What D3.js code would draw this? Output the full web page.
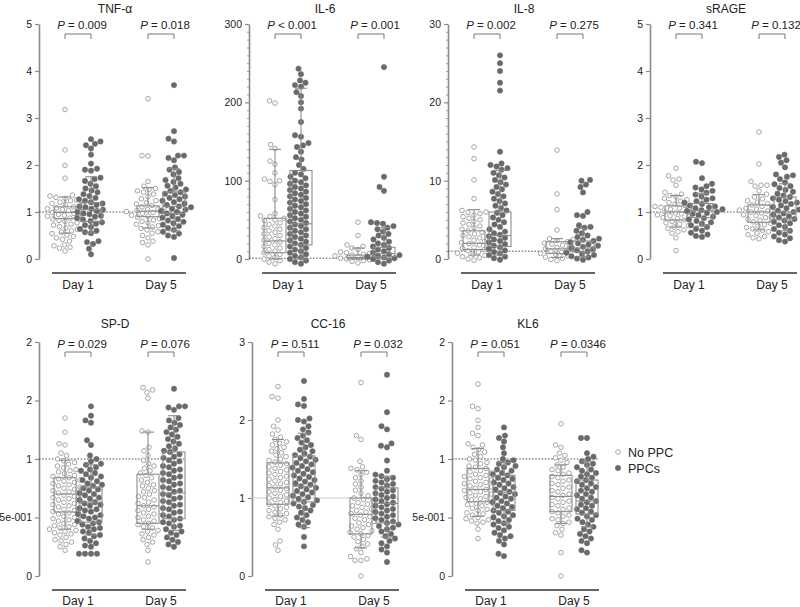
<!DOCTYPE html>
<html><head><meta charset="utf-8">
<script src="https://cdn.jsdelivr.net/npm/d3@7"></script>
<style>body{margin:0;background:#fff}svg{display:block}text{font-family:"Liberation Sans",Arial,sans-serif}</style>
</head><body><svg id="c" width="800" height="607"></svg>
<script>
const days = ["Day 1", "Day 5"];
const groups = ["No PPC", "PPCs"];

// TNF-alpha
const tnfD1No = [3.18,2.32,1.99,1.72,1.36,1.34,1.31,1.29,1.26,1.24,1.21,1.18,1.16,1.13,1.11,1.09,1.07,1.05,1.03,1.01,0.99,0.97,0.95,0.93,0.91,0.89,0.87,0.85,0.82,0.8,0.77,0.74,0.72,0.69,0.66,0.63,0.6,0.57,0.54,0.51,0.48,0.45,0.42,0.38,0.3,0.28,0.25,0.23,0.17];
const tnfD1Ppc = [2.55,2.5,2.45,2.42,2.35,2.22,2.03,1.92,1.9,1.88,1.73,1.7,1.66,1.6,1.55,1.5,1.46,1.42,1.38,1.34,1.3,1.27,1.24,1.21,1.18,1.15,1.12,1.1,1.07,1.05,1.02,1.0,0.97,0.95,0.92,0.9,0.87,0.84,0.81,0.78,0.75,0.72,0.68,0.64,0.6,0.57,0.55,0.38,0.36,0.32,0.22,0.1];
const tnfD5No = [3.41,2.2,2.19,1.65,1.55,1.5,1.48,1.45,1.42,1.38,1.33,1.28,1.24,1.2,1.17,1.14,1.11,1.09,1.07,1.05,1.03,1.01,0.99,0.97,0.95,0.93,0.91,0.89,0.86,0.83,0.8,0.77,0.74,0.71,0.68,0.65,0.62,0.58,0.55,0.5,0.45,0.38,0.35,0.3,0.0];
const tnfD5Ppc = [3.7,2.72,2.56,2.5,2.2,2.2,2.15,2.1,1.95,1.9,1.85,1.8,1.72,1.68,1.64,1.6,1.56,1.52,1.48,1.45,1.42,1.39,1.36,1.33,1.3,1.27,1.24,1.21,1.18,1.15,1.12,1.1,1.07,1.05,1.02,1.0,0.97,0.94,0.91,0.88,0.85,0.82,0.79,0.76,0.73,0.7,0.66,0.62,0.58,0.54,0.5,0.47,0.02];
const tnfBox = [[0.86,0.99,1.11,0.55,1.32],[0.8,1.05,1.2,0.55,1.75],[0.9,1.02,1.13,0.66,1.52],[0.97,1.12,1.43,0.6,1.92]];
const tnfP = ["= 0.009", "= 0.018"];

// IL-6
const il6D1No = [202,199,146,141,125,121,110,102,100,99,95,76,58,55,54,52,50,49,46,44,42,40,38,36,34,32,30,28,26,24,22,20,18,16,14,12,10,8,6,4,2,0,-2,-4,-6];
const il6D1Ppc = [243,236,228,225,222,220,213,208,200,192,175,158,156,148,145,143,137,130,127,120,115,110,108,105,103,100,98,96,94,92,90,88,86,84,82,80,78,76,74,72,70,68,66,64,62,60,58,56,54,52,50,48,46,44,42,40,38,36,34,32,30,28,26,24,22,20,18,16,14,12,10,8,6,4,2,0,-2,-4,-6];
const il6D5No = [47,30,18,16,14,12,10,9,8,7,6,5,4,3,2,1,0,-1,-2,-3,-5];
const il6D5Ppc = [245,105,92,87,47,46,45,42,40,38,35,32,30,27,25,22,20,18,16,14,12,10,8,6,5,4,3,2,1,0,-2,-4,-6];
const il6Box = [[8,23,52,0,140],[18,45,113,0,218],[0,2,5,0,14],[3,7,15,0,40]];
const il6P = ["< 0.001", "= 0.001"];

// IL-8
const il8D1No = [14.3,12.8,10.1,7.7,6.2,6.0,5.95,5.8,5.6,5.4,5.2,5.0,4.8,4.6,4.4,4.2,4.0,3.8,3.6,3.4,3.2,3.0,2.85,2.7,2.55,2.4,2.25,2.1,1.95,1.8,1.65,1.5,1.35,1.2,1.05,0.9,0.75,0.6,0.45,0.3,0.15,0.0,-0.15];
const il8D1Ppc = [26,25,24,22.5,21.5,13.7,12.2,12.0,11.8,11.6,11.4,11.0,10.7,10.4,10.1,9.8,9.5,9.2,8.9,8.6,8.3,8.0,7.7,7.4,7.1,6.8,6.5,6.2,5.9,5.6,5.3,5.0,4.7,4.4,4.1,3.8,3.5,3.3,3.1,2.9,2.7,2.5,2.3,2.1,1.9,1.7,1.5,1.3,1.1,0.9,0.7,0.5,0.3,0.1,-0.1];
const il8D5No = [13.9,8.3,6.3,3.7,2.6,2.5,2.35,2.2,2.05,1.9,1.75,1.6,1.45,1.3,1.15,1.0,0.85,0.7,0.55,0.4,0.25,0.1,-0.05,-0.2];
const il8D5Ppc = [10.1,10.0,9.5,9.2,8.5,6.0,5.6,5.5,4.3,4.1,4.0,3.6,3.3,3.0,2.8,2.6,2.45,2.3,2.15,2.0,1.85,1.7,1.55,1.4,1.25,1.1,0.95,0.8,0.65,0.5,0.35,0.2,0.05,-0.1];
const il8Box = [[1.2,2.0,3.6,0.5,6.3],[1.6,3.0,6.0,0.5,11.3],[0.7,1.3,2.2,0.2,2.6],[0.9,1.4,2.3,0.3,3.9]];
const il8P = ["= 0.002", "= 0.275"];

// sRAGE
const srD1No = [1.93,1.77,1.7,1.68,1.57,1.42,1.38,1.35,1.32,1.29,1.26,1.23,1.2,1.17,1.14,1.12,1.1,1.08,1.06,1.04,1.02,1.0,0.98,0.96,0.94,0.92,0.9,0.88,0.86,0.83,0.8,0.77,0.74,0.71,0.68,0.65,0.62,0.58,0.55,0.45,0.18];
const srD1Ppc = [2.07,2.04,1.72,1.6,1.55,1.52,1.48,1.45,1.41,1.37,1.33,1.29,1.26,1.23,1.2,1.17,1.14,1.12,1.1,1.08,1.06,1.04,1.02,1.0,0.98,0.96,0.93,0.9,0.87,0.84,0.81,0.78,0.75,0.72,0.68,0.64,0.6,0.56,0.52,0.49,0.47];
const srD5No = [2.7,2.02,1.65,1.57,1.57,1.55,1.45,1.38,1.32,1.28,1.24,1.21,1.18,1.15,1.12,1.1,1.08,1.06,1.04,1.02,1.0,0.98,0.96,0.94,0.92,0.9,0.88,0.85,0.82,0.79,0.76,0.73,0.7,0.67,0.64,0.61,0.58,0.55,0.52,0.48,0.45,0.43];
const srD5Ppc = [2.22,2.17,2.1,2.05,1.95,1.8,1.78,1.75,1.7,1.63,1.59,1.55,1.51,1.47,1.43,1.39,1.35,1.32,1.29,1.26,1.23,1.2,1.17,1.14,1.11,1.08,1.05,1.03,1.0,0.97,0.94,0.91,0.88,0.85,0.82,0.79,0.76,0.72,0.68,0.64,0.6,0.56,0.52,0.48,0.44,0.4,0.37];
const srBox = [[0.83,1.0,1.13,0.68,1.35],[0.88,1.03,1.18,0.7,1.4],[0.78,1.0,1.15,0.62,1.37],[0.85,1.0,1.32,0.6,1.6]];
const srP = ["= 0.341", "= 0.132"];

// SP-D
const spD1No = [1.35,1.23,1.13,1.12,1.05,1.03,1.0,0.985,0.97,0.955,0.94,0.925,0.91,0.9,0.89,0.875,0.86,0.85,0.84,0.83,0.82,0.81,0.8,0.79,0.78,0.77,0.76,0.75,0.74,0.73,0.72,0.71,0.7,0.69,0.68,0.67,0.66,0.65,0.64,0.63,0.62,0.61,0.6,0.59,0.58,0.57,0.56,0.55,0.54,0.53,0.52,0.51,0.5,0.49,0.48,0.47,0.46,0.45,0.44,0.43,0.42,0.41,0.4,0.39,0.38,0.37,0.36,0.35,0.33,0.31,0.3,0.29,0.27,0.25,0.22];
const spD1Ppc = [1.45,1.37,1.33,1.31,1.16,1.12,1.03,1.0,0.98,0.96,0.95,0.93,0.91,0.9,0.88,0.87,0.85,0.84,0.82,0.81,0.79,0.78,0.77,0.75,0.74,0.73,0.71,0.7,0.69,0.67,0.66,0.65,0.63,0.62,0.61,0.6,0.58,0.57,0.56,0.55,0.53,0.52,0.51,0.5,0.49,0.47,0.46,0.45,0.44,0.42,0.41,0.4,0.38,0.37,0.35,0.34,0.32,0.3,0.28,0.26,0.25,0.19,0.19,0.19,0.19];
const spD5No = [1.61,1.59,1.57,1.52,1.24,1.23,1.1,1.07,1.03,0.99,0.96,0.94,0.92,0.9,0.88,0.86,0.84,0.82,0.8,0.78,0.77,0.75,0.73,0.72,0.7,0.68,0.67,0.65,0.63,0.62,0.6,0.59,0.57,0.56,0.54,0.53,0.51,0.5,0.48,0.47,0.45,0.44,0.42,0.41,0.39,0.38,0.36,0.35,0.33,0.31,0.29,0.27,0.22,0.12];
const spD5Ppc = [1.6,1.45,1.45,1.44,1.42,1.35,1.33,1.31,1.29,1.27,1.25,1.23,1.21,1.19,1.17,1.15,1.13,1.11,1.09,1.07,1.06,1.04,1.02,1.01,0.99,0.98,0.96,0.94,0.93,0.91,0.9,0.88,0.87,0.85,0.84,0.82,0.81,0.79,0.78,0.76,0.75,0.73,0.72,0.7,0.69,0.67,0.66,0.64,0.63,0.61,0.6,0.58,0.57,0.55,0.54,0.52,0.51,0.49,0.48,0.46,0.45,0.43,0.42,0.4,0.38,0.37,0.35,0.33,0.31,0.29,0.27,0.25];
const spBox = [[0.547,0.7,0.84,0.4,0.99],[0.46,0.63,0.76,0.35,0.95],[0.45,0.6,0.87,0.4,1.23],[0.49,0.71,1.06,0.39,1.37]];
const spP = ["= 0.029", "= 0.076"];

// CC-16
const ccD1No = [2.43,2.3,2.28,2.0,1.92,1.87,1.82,1.78,1.75,1.72,1.7,1.68,1.65,1.63,1.6,1.58,1.55,1.53,1.5,1.48,1.46,1.44,1.42,1.4,1.38,1.36,1.34,1.32,1.3,1.28,1.26,1.24,1.22,1.2,1.18,1.16,1.14,1.12,1.1,1.08,1.06,1.04,1.02,1.0,0.98,0.96,0.94,0.92,0.9,0.88,0.86,0.84,0.82,0.8,0.78,0.76,0.74,0.72,0.69,0.66,0.6,0.45,0.4,0.33];
const ccD1Ppc = [2.5,2.27,2.2,2.18,2.02,2.0,1.98,1.92,1.88,1.84,1.8,1.77,1.74,1.71,1.68,1.65,1.62,1.6,1.57,1.55,1.53,1.51,1.49,1.47,1.45,1.43,1.41,1.39,1.37,1.35,1.33,1.31,1.29,1.27,1.25,1.23,1.21,1.19,1.17,1.15,1.13,1.11,1.09,1.07,1.05,1.03,1.01,0.99,0.97,0.95,0.93,0.91,0.89,0.87,0.84,0.81,0.78,0.75,0.72,0.69,0.66,0.63,0.5,0.38];
const ccD5No = [2.48,1.8,1.75,1.47,1.4,1.38,1.36,1.33,1.3,1.26,1.22,1.18,1.14,1.1,1.06,1.03,1.0,0.98,0.96,0.94,0.92,0.9,0.88,0.86,0.84,0.82,0.8,0.78,0.76,0.74,0.72,0.7,0.68,0.66,0.64,0.62,0.6,0.58,0.56,0.54,0.52,0.5,0.47,0.44,0.41,0.38,0.35,0.3,0.25,0.22,0.2,0.2,0.0];
const ccD5Ppc = [2.58,2.1,1.92,1.88,1.7,1.67,1.65,1.48,1.35,1.3,1.28,1.26,1.24,1.22,1.2,1.18,1.16,1.14,1.12,1.1,1.08,1.06,1.04,1.02,1.0,0.98,0.96,0.94,0.92,0.9,0.88,0.86,0.84,0.82,0.8,0.78,0.76,0.74,0.72,0.7,0.68,0.66,0.64,0.62,0.6,0.57,0.54,0.51,0.48,0.45,0.42,0.38,0.34,0.3,0.18];
const ccBox = [[0.92,1.13,1.45,0.77,1.75],[0.95,1.15,1.54,0.62,1.83],[0.54,0.79,1.0,0.36,1.35],[0.68,0.93,1.13,0.5,1.28]];
const ccP = ["= 0.511", "= 0.032"];

// KL6
const klD1No = [1.64,1.45,1.43,1.33,1.27,1.22,1.2,1.13,1.12,1.1,1.08,1.06,1.04,1.02,1.0,0.99,0.97,0.96,0.94,0.93,0.92,0.9,0.89,0.88,0.87,0.86,0.85,0.84,0.83,0.82,0.81,0.8,0.79,0.78,0.77,0.76,0.75,0.74,0.73,0.72,0.71,0.7,0.69,0.68,0.67,0.66,0.65,0.64,0.63,0.62,0.61,0.6,0.58,0.57,0.56,0.54,0.53,0.52,0.51,0.5,0.49,0.48,0.47,0.46,0.45,0.4,0.32];
const klD1Ppc = [1.27,1.2,1.18,1.15,1.1,1.05,1.0,0.99,0.97,0.96,0.94,0.93,0.91,0.9,0.88,0.87,0.86,0.84,0.83,0.82,0.8,0.79,0.78,0.76,0.75,0.74,0.72,0.71,0.7,0.68,0.67,0.66,0.64,0.63,0.62,0.6,0.59,0.58,0.56,0.55,0.54,0.52,0.51,0.5,0.48,0.47,0.45,0.44,0.42,0.41,0.39,0.37,0.35,0.34,0.32,0.3,0.27,0.19,0.17];
const klD5No = [1.3,1.12,1.1,1.05,1.03,1.01,0.99,0.97,0.95,0.93,0.91,0.9,0.88,0.87,0.85,0.84,0.82,0.81,0.79,0.78,0.76,0.75,0.73,0.72,0.7,0.69,0.67,0.66,0.64,0.63,0.61,0.6,0.58,0.57,0.55,0.54,0.52,0.51,0.49,0.48,0.46,0.45,0.43,0.4,0.37,0.35,0.2,0.0];
const klD5Ppc = [1.18,1.18,1.05,1.02,1.0,0.98,0.96,0.95,0.93,0.91,0.9,0.88,0.87,0.85,0.84,0.82,0.81,0.79,0.78,0.76,0.75,0.73,0.72,0.7,0.69,0.67,0.66,0.64,0.63,0.61,0.6,0.58,0.57,0.55,0.54,0.52,0.51,0.49,0.48,0.46,0.44,0.42,0.4,0.38,0.36,0.34,0.32,0.3,0.28,0.22,0.2];
const klBox = [[0.635,0.74,0.92,0.51,1.09],[0.56,0.715,0.86,0.45,0.97],[0.55,0.68,0.86,0.45,0.95],[0.53,0.64,0.82,0.42,0.98]];
const klP = ["= 0.051", "= 0.0346"];

// axis ticks
const ticks05 = [0,1,2,3,4,5];
const ticksIL6 = [0,100,200,300];
const ticksIL8 = [0,10,20,30];
const ticks02 = [0,0.5,1,1.5,2];
const ticks02Labels = ["0","5e-001","1","2","2"];
const ticks03 = [0,1,2,3];

const panels = [
  {title:"TNF-\u03b1", row:0, ax:39, max:5, ticks:ticks05, data:[tnfD1No,tnfD1Ppc,tnfD5No,tnfD5Ppc], box:tnfBox, p:tnfP, ref:1},
  {title:"IL-6", row:0, ax:249, max:300, ticks:ticksIL6, minor:10, data:[il6D1No,il6D1Ppc,il6D5No,il6D5Ppc], box:il6Box, p:il6P, ref:1},
  {title:"IL-8", row:0, ax:448, max:30, ticks:ticksIL8, minor:1, data:[il8D1No,il8D1Ppc,il8D5No,il8D5Ppc], box:il8Box, p:il8P, ref:1},
  {title:"sRAGE", row:0, ax:650, max:5, ticks:ticks05, data:[srD1No,srD1Ppc,srD5No,srD5Ppc], box:srBox, p:srP, ref:1},
  {title:"SP-D", row:1, ax:39, max:2, ticks:ticks02, labels:ticks02Labels, data:[spD1No,spD1Ppc,spD5No,spD5Ppc], box:spBox, p:spP, ref:1},
  {title:"CC-16", row:1, ax:252, max:3, ticks:ticks03, data:[ccD1No,ccD1Ppc,ccD5No,ccD5Ppc], box:ccBox, p:ccP, ref:1, refSolid:true},
  {title:"KL6", row:1, ax:452, max:2, ticks:ticks02, labels:ticks02Labels, data:[klD1No,klD1Ppc,klD5No,klD5Ppc], box:klBox, p:klP, ref:1}
];
const rows = [
  {top:24, bottom:259, base:273, dayY:289, titleY:12.5, pY:29, brY:34},
  {top:342, bottom:576, base:590, dayY:605, titleY:327.5, pY:348, brY:352}
];

const svg = d3.select("#c");
const R = 2.7;
const openCol = "#9b9b9b", fillCol = "#6a6a6a", boxCol = "#8c8c8c", axisCol = "#8a8a8a";

function swarm(values, y) {
  const pts = values.map(v => ({v, y: y(v)})).sort((a,b) => b.y - a.y);
  const placed = [];
  const d = 2*R + 0.5;
  for (const p of pts) {
    let off = 0;
    for (let k = 0; k < 400; k++) {
      const o = (k % 2 === 0 ? 1 : -1) * Math.ceil(k/2) * 0.5;
      let ok = true;
      for (const q of placed) {
        const dy = q.y - p.y;
        if (Math.abs(dy) < d) { const dx = q.x - o; if (dx*dx + dy*dy < d*d) { ok = false; break; } }
      }
      if (ok) { off = o; break; }
    }
    p.x = off; placed.push(p);
  }
  return pts;
}

panels.forEach(P => {
  const rw = rows[P.row];
  const g = svg.append("g");
  const y = d3.scaleLinear().domain([0, P.max]).range([rw.bottom, rw.top]);
  const xDay = d3.scalePoint().domain(days).range([P.ax + 39, P.ax + 122]);
  const xGrp = d3.scalePoint().domain(groups).range([-13, 13]);

  g.append("text").attr("x", P.ax + 76).attr("y", rw.titleY).attr("text-anchor","middle")
    .attr("font-size", 12).attr("fill","#222").text(P.title);

  const axis = d3.axisLeft(y).tickValues(P.ticks).tickSize(4).tickSizeOuter(0).tickPadding(3)
    .tickFormat((d,i) => P.labels ? P.labels[i] : d3.format("d")(d));
  const ag = g.append("g").attr("transform", `translate(${P.ax},0)`).call(axis);
  ag.select(".domain").attr("stroke", axisCol).attr("stroke-width", 1.6);
  ag.selectAll(".tick line").attr("stroke", axisCol).attr("stroke-width", 1.2);
  ag.selectAll(".tick text").attr("font-size", 10.5).attr("fill","#222").attr("font-family",'"Liberation Sans",Arial,sans-serif');
  if (P.minor) {
    const mt = d3.range(0, P.max + 1e-9, P.minor).filter(v => !P.ticks.includes(v));
    const mg = g.append("g").attr("transform", `translate(${P.ax},0)`)
      .call(d3.axisLeft(y).tickValues(mt).tickSize(2).tickFormat(""));
    mg.select(".domain").remove();
    mg.selectAll(".tick line").attr("stroke", axisCol).attr("stroke-width", 0.8);
  }

  g.append("line").attr("x1", P.ax).attr("x2", P.ax + 147).attr("y1", y(P.ref)).attr("y2", y(P.ref))
    .attr("stroke", P.refSolid ? "#c8c8c8" : "#444").attr("stroke-width", P.refSolid ? 1 : 0.9)
    .attr("stroke-dasharray", P.refSolid ? null : "1.6,1.6");

  g.append("line").attr("x1", P.ax + 13).attr("x2", P.ax + 147).attr("y1", rw.base).attr("y2", rw.base)
    .attr("stroke", "#333").attr("stroke-width", 1.5);
  days.forEach(dname => {
    g.append("text").attr("x", xDay(dname)).attr("y", rw.dayY).attr("text-anchor","middle")
      .attr("font-size", 12).attr("fill","#222").text(dname);
  });

  days.forEach((dname, di) => {
    groups.forEach((gname, gi) => {
      const idx = di*2 + gi;
      const cx = xDay(dname) + xGrp(gname);
      const pts = swarm(P.data[idx], y);
      g.append("g").selectAll("circle").data(pts).join("circle")
        .attr("cx", d => cx + d.x).attr("cy", d => d.y).attr("r", gi === 0 ? R - 0.4 : R)
        .attr("fill", gi === 0 ? "#fff" : fillCol)
        .attr("stroke", gi === 0 ? openCol : fillCol).attr("stroke-width", gi === 0 ? 0.9 : 0.5);
      const [q1, med, q3, lo, hi] = P.box[idx];
      const bw = 11, cw = 6;
      const bg = g.append("g").attr("stroke", boxCol).attr("stroke-width", 1.1).attr("fill","none");
      bg.append("rect").attr("x", cx - bw).attr("width", 2*bw).attr("y", y(q3)).attr("height", y(q1) - y(q3));
      bg.append("line").attr("x1", cx - bw).attr("x2", cx + bw).attr("y1", y(med)).attr("y2", y(med));
      bg.append("line").attr("x1", cx).attr("x2", cx).attr("y1", y(q3)).attr("y2", y(hi));
      bg.append("line").attr("x1", cx - cw).attr("x2", cx + cw).attr("y1", y(hi)).attr("y2", y(hi));
      bg.append("line").attr("x1", cx).attr("x2", cx).attr("y1", y(q1)).attr("y2", y(lo));
      bg.append("line").attr("x1", cx - cw).attr("x2", cx + cw).attr("y1", y(lo)).attr("y2", y(lo));
    });
    const xa = xDay(dname) + xGrp(groups[0]), xb = xDay(dname) + xGrp(groups[1]);
    g.append("path").attr("d", `M${xa},${rw.brY + 5}V${rw.brY}H${xb}V${rw.brY + 5}`)
      .attr("fill","none").attr("stroke","#777").attr("stroke-width",1);
    const t = g.append("text").attr("x", xDay(dname) + 4).attr("y", rw.pY).attr("text-anchor","middle")
      .attr("font-size", 11.5).attr("fill","#222");
    t.append("tspan").attr("font-style","italic").text("P");
    t.append("tspan").text(" " + P.p[di]);
  });
});

const leg = svg.append("g");
groups.forEach((gname, gi) => {
  const yy = 452 + gi*16;
  leg.append("circle").attr("cx", 618).attr("cy", yy).attr("r", gi === 0 ? R - 0.4 : R)
    .attr("fill", gi === 0 ? "#fff" : fillCol).attr("stroke", gi === 0 ? openCol : fillCol).attr("stroke-width", gi === 0 ? 0.9 : 0.5);
  leg.append("text").attr("x", 628).attr("y", yy + 4.5).attr("font-size", 12.5).attr("fill","#222").text(gname);
});
</script>
</body></html>
